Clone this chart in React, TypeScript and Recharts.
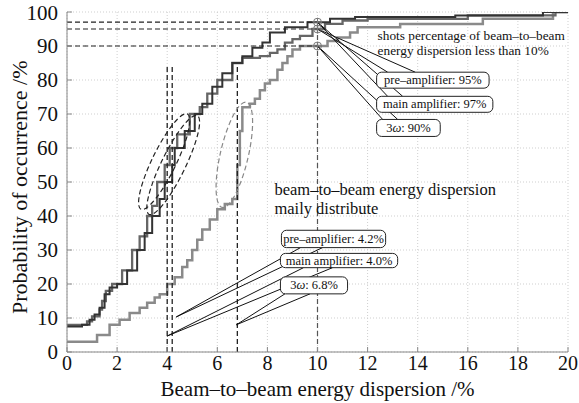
import React from 'react';
import {
  LineChart, Line, XAxis, YAxis, CartesianGrid,
  ReferenceLine, ReferenceDot, ReferenceArea,
} from 'recharts';

const xTicks = [0, 2, 4, 6, 8, 10, 12, 14, 16, 18, 20];
const yTicks = [0, 10, 20, 30, 40, 50, 60, 70, 80, 90, 100];

// cumulative curves (x = dispersion %, y = probability %)
const preAmpX = [0, 0.5, 0.8, 1.0, 1.3, 1.4, 1.55, 1.8, 2.2, 2.6, 2.9, 3.2, 3.4, 3.6, 3.9, 4.1, 4.4, 4.9, 5.3, 5.6, 6.0, 6.6, 7.0, 7.7, 8.1, 8.4, 8.7, 9.0, 9.3, 9.8, 10.3, 11, 12, 16, 19.5, 20];
const preAmpY = [8, 8, 9, 10.5, 12.5, 15, 18, 20, 24, 30, 34, 40, 43, 50, 55, 60, 64, 70, 72, 76, 80, 85, 86.5, 87, 88, 89, 91, 92, 93, 95, 96.5, 97.5, 98, 99, 100, 100];

const mainAmpX = [0, 0.6, 0.9, 1.1, 1.3, 1.5, 1.7, 2.0, 2.4, 2.8, 3.1, 3.4, 3.7, 3.9, 4.2, 4.3, 4.7, 5.1, 5.4, 5.8, 6.2, 6.6, 7.0, 7.4, 7.8, 8.1, 8.7, 9.6, 10.5, 11.5, 15.5, 19, 20];
const mainAmpY = [7.5, 8, 9.5, 11, 13, 17, 19, 20, 24, 30, 35, 40, 45, 50, 55, 60, 65, 70, 73, 78, 82, 85, 87, 89.5, 91, 94, 95.5, 97, 98, 98.5, 99, 100, 100];

const thirdX = [0, 1.2, 1.7, 2.1, 2.5, 2.9, 3.2, 3.5, 3.7, 4.0, 4.3, 4.6, 4.8, 5.0, 5.2, 5.4, 5.7, 6.0, 6.3, 6.6, 6.8, 6.9, 7.0, 7.3, 7.5, 7.7, 7.9, 8.1, 8.4, 8.6, 8.8, 9.0, 9.3, 10.4, 10.8, 11.3, 11.6, 13.3, 16.6, 19.4, 20];
const thirdY = [3, 5, 8, 9.5, 11.5, 13, 14.5, 16, 17, 20, 22, 25, 27, 30, 33, 36, 39, 42, 43.5, 45, 55, 65, 72, 73, 74.5, 77, 79, 80, 83, 85, 87, 89, 90, 91.5, 92.5, 94, 95.5, 96.5, 98, 100, 100];

const zip = (xs: number[], ys: number[]) => xs.map((x, i) => ({ x, y: ys[i] }));
const preAmp = zip(preAmpX, preAmpY);
const mainAmp = zip(mainAmpX, mainAmpY);
const third = zip(thirdX, thirdY);

const FONT = '"Liberation Serif", "DejaVu Serif", serif';

// callout boxes
const boxes = [
  { x1: 12.36, x2: 16.85, y1: 77.6, y2: 82.3, text: 'pre–amplifier: 95%' },
  { x1: 12.36, x2: 17.0, y1: 70.5, y2: 75.2, text: 'main amplifier: 97%' },
  { x1: 12.36, x2: 14.9, y1: 63.4, y2: 68.4, text: '3ω: 90%' },
  { x1: 8.56, x2: 12.72, y1: 30.7, y2: 35.8, text: 'pre–amplifier: 4.2%' },
  { x1: 8.52, x2: 13.2, y1: 24.8, y2: 29.0, text: 'main amplifier: 4.0%' },
  { x1: 8.52, x2: 11.2, y1: 17.1, y2: 22.1, text: '3ω: 6.8%' },
];

// callout tails: point -> two ends on the box
const tails = [
  { px: 10, py: 95, e1: [12.8, 82.3], e2: [13.9, 82.3] },
  { px: 10, py: 97, e1: [12.8, 75.2], e2: [13.4, 75.2] },
  { px: 10, py: 90, e1: [12.6, 68.4], e2: [13.2, 68.4] },
  { px: 4.36, py: 10.3, e1: [9.32, 30.7], e2: [10.2, 30.7] },
  { px: 4.0, py: 4.7, e1: [9.44, 24.8], e2: [10.6, 24.8] },
  { px: 6.76, py: 8, e1: [8.7, 17.1], e2: [9.7, 17.1] },
];

const levels = [97, 95, 90];
const markX = [4.0, 4.2, 6.8];

const ellipses = [
  { x: 3.88, y: 56, rx: 12, ry: 53, angle: 26, color: '#222' },
  { x: 4.24, y: 55, rx: 12, ry: 55, angle: 26, color: '#222' },
  { x: 6.68, y: 58, rx: 14, ry: 54, angle: 13, color: '#888' },
];

const notes = [
  { x: 12.4, y: 93.2, text: 'shots percentage of beam–to–beam', size: 13.3 },
  { x: 12.4, y: 88.7, text: 'energy dispersion less than 10%', size: 13.3 },
  { x: 8.28, y: 47.8, text: 'beam–to–beam energy dispersion', size: 16.5 },
  { x: 8.28, y: 42.2, text: 'maily distribute', size: 16.5 },
];

const boxText = (text: string) => {
  if (text.startsWith('3ω')) {
    return (
      <>
        <tspan>3</tspan>
        <tspan fontStyle="italic">ω</tspan>
        <tspan>{text.slice(2)}</tspan>
      </>
    );
  }
  return text;
};

export default function App() {
  return (
    <div style={{ position: 'absolute', left: 0, top: 0, background: '#fff' }}>
      <LineChart
        width={579}
        height={403}
        margin={{ top: 12, right: 11, bottom: 0, left: 0 }}
        style={{ fontFamily: FONT }}
      >
        <CartesianGrid stroke="#cfcfcf" strokeDasharray="1 2" />
        <XAxis
          dataKey="x"
          type="number"
          domain={[0, 20]}
          ticks={xTicks}
          height={51}
          allowDataOverflow
          stroke="#888"
          tickSize={-5}
          tickMargin={9}
          tick={{ fill: '#111', fontSize: 20, fontFamily: FONT }}
          label={{ value: 'Beam–to–beam energy dispersion /%', position: 'insideBottom', offset: 7, fill: '#111', fontSize: 21, fontFamily: FONT }}
        />
        <XAxis xAxisId="top" orientation="top" type="number" domain={[0, 20]} ticks={xTicks} height={0} stroke="#888" tick={false} tickSize={-5} />
        <YAxis
          type="number"
          domain={[0, 100]}
          ticks={yTicks}
          width={67}
          allowDataOverflow
          stroke="#888"
          tickSize={-5}
          tickMargin={14}
          tick={{ fill: '#111', fontSize: 21, fontFamily: FONT }}
          label={{ value: 'Probability of occurrence /%', angle: -90, position: 'insideLeft', offset: 19, dy: 132, fill: '#111', fontSize: 22, fontFamily: FONT }}
        />
        <YAxis yAxisId="right" orientation="right" type="number" domain={[0, 100]} ticks={yTicks} width={0} stroke="#888" tick={false} tickSize={-5} />

        <Line data={third} dataKey="y" type="stepAfter" stroke="#8a8a8a" strokeWidth={2.5} dot={false} isAnimationActive={false} />
        <Line data={preAmp} dataKey="y" type="stepAfter" stroke="#666" strokeWidth={2.3} dot={false} isAnimationActive={false} />
        <Line data={mainAmp} dataKey="y" type="stepAfter" stroke="#333" strokeWidth={2} dot={false} isAnimationActive={false} />

        {levels.map((v) => (
          <ReferenceLine key={'h' + v} segment={[{ x: 0, y: v }, { x: 10, y: v }]} stroke="#222" strokeWidth={1.2} strokeDasharray="5 3" />
        ))}
        <ReferenceLine segment={[{ x: 10, y: 0 }, { x: 10, y: 97 }]} stroke="#555" strokeWidth={1.2} strokeDasharray="5 3" />
        {markX.map((v) => (
          <ReferenceLine key={'v' + v} segment={[{ x: v, y: 0 }, { x: v, y: 84 }]} stroke="#222" strokeWidth={1.3} strokeDasharray="5 3" />
        ))}

        {ellipses.map((e, i) => (
          <ReferenceDot
            key={'e' + i}
            x={e.x}
            y={e.y}
            r={1}
            shape={(p: any) => (
              <ellipse
                cx={p.cx}
                cy={p.cy}
                rx={e.rx}
                ry={e.ry}
                transform={`rotate(${e.angle} ${p.cx} ${p.cy})`}
                fill="none"
                stroke={e.color}
                strokeWidth={1.2}
                strokeDasharray="5 3"
              />
            )}
          />
        ))}

        {levels.map((v) => (
          <ReferenceDot
            key={'c' + v}
            x={10}
            y={v}
            r={4}
            shape={(p: any) => (
              <g>
                <circle cx={p.cx} cy={p.cy} r={4} fill="none" stroke="#777" strokeWidth={1} />
                <line x1={p.cx - 4} x2={p.cx + 4} y1={p.cy} y2={p.cy} stroke="#777" />
                <line x1={p.cx} x2={p.cx} y1={p.cy - 4} y2={p.cy + 4} stroke="#777" />
              </g>
            )}
          />
        ))}

        {tails.map((t, i) => (
          <ReferenceLine key={'t1' + i} segment={[{ x: t.px, y: t.py }, { x: t.e1[0], y: t.e1[1] }]} stroke="#111" strokeWidth={1} />
        ))}
        {tails.map((t, i) => (
          <ReferenceLine key={'t2' + i} segment={[{ x: t.px, y: t.py }, { x: t.e2[0], y: t.e2[1] }]} stroke="#111" strokeWidth={1} />
        ))}

        {boxes.map((b, i) => (
          <ReferenceArea
            key={'b' + i}
            x1={b.x1}
            x2={b.x2}
            y1={b.y1}
            y2={b.y2}
            zIndex={1000}
            shape={(p: any) => (
              <g>
                <rect x={p.x} y={p.y} width={p.width} height={p.height} rx={5} fill="#fff" stroke="#222" strokeWidth={1} />
                <text
                  x={p.x + p.width / 2}
                  y={p.y + p.height / 2}
                  textAnchor="middle"
                  dominantBaseline="central"
                  fontSize={12.5}
                  fontFamily={FONT}
                  fill="#111"
                >
                  {boxText(b.text)}
                </text>
              </g>
            )}
          />
        ))}

        {notes.map((n, i) => (
          <ReferenceDot
            key={'n' + i}
            x={n.x}
            y={n.y}
            r={1}
            zIndex={1000}
            shape={(p: any) => (
              <text x={p.cx} y={p.cy} dominantBaseline="central" fontSize={n.size} fontFamily={FONT} fill="#111">
                {n.text}
              </text>
            )}
          />
        ))}
      </LineChart>
    </div>
  );
}
